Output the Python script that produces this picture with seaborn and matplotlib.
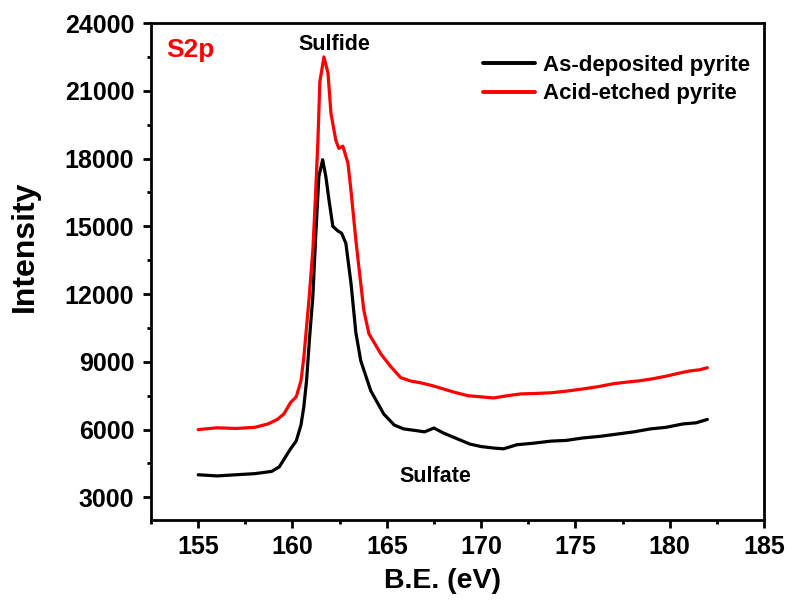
import matplotlib
matplotlib.use('Agg')
import matplotlib.pyplot as plt
import pandas as pd
import seaborn as sns
from matplotlib.ticker import MultipleLocator

# Espectro XPS S2p
be_dep = [155.0, 156.0, 157.0, 158.0, 158.9, 159.3, 159.6, 159.9, 160.2, 160.45,
          160.6, 160.75, 160.9, 161.08, 161.24, 161.4, 161.6, 161.77, 161.93, 162.14,
          162.4, 162.6, 162.83, 163.1, 163.36, 163.62, 164.15, 164.84, 165.4, 165.9,
          166.6, 167.0, 167.5, 168.0, 168.4, 169.4, 170.0, 170.7, 171.2, 171.9,
          172.8, 173.7, 174.5, 175.4, 176.3, 177.2, 178.1, 178.97, 179.8, 180.7,
          181.4, 182.0]
int_dep = [4000, 3950, 4000, 4050, 4150, 4350, 4750, 5150, 5500, 6200,
           7000, 8200, 10000, 11900, 14700, 17200, 17950, 17200, 16200, 15000,
           14800, 14700, 14250, 12500, 10300, 9050, 7720, 6690, 6200, 6030,
           5950, 5900, 6070, 5850, 5710, 5360, 5250, 5180, 5150, 5330,
           5400, 5490, 5520, 5630, 5700, 5800, 5900, 6030, 6100, 6250,
           6300, 6450]

be_etch = [155.0, 156.0, 157.0, 158.0, 158.7, 159.2, 159.55, 159.9, 160.2, 160.45,
           160.6, 160.87, 161.08, 161.2, 161.35, 161.45, 161.67, 161.88, 162.04, 162.3,
           162.46, 162.67, 162.94, 163.1, 163.36, 163.52, 163.78, 164.05, 164.68, 165.2,
           165.74, 166.27, 166.8, 167.4, 168.0, 168.6, 169.3, 170.0, 170.66, 171.4,
           172.1, 172.9, 173.7, 174.5, 175.4, 176.2, 177.0, 177.7, 178.4, 179.1,
           179.9, 180.5, 181.1, 181.6, 182.0]
int_etch = [6000, 6080, 6050, 6100, 6250, 6450, 6700, 7200, 7450, 8160,
            9180, 11700, 13950, 16000, 18800, 21400, 22500, 21800, 20000, 18800,
            18450, 18550, 17800, 16600, 14400, 13200, 11300, 10250, 9360, 8800,
            8300, 8150, 8070, 7950, 7800, 7650, 7500, 7450, 7400, 7500,
            7580, 7600, 7630, 7700, 7800, 7900, 8030, 8100, 8160, 8250,
            8380, 8500, 8600, 8650, 8740]

df_dep = pd.DataFrame({'be': be_dep, 'intensidade': int_dep})
df_etch = pd.DataFrame({'be': be_etch, 'intensidade': int_etch})

sns.set_theme(style='ticks')
plt.rcParams['font.family'] = ['Liberation Sans', 'DejaVu Sans']
plt.rcParams['font.weight'] = 'bold'
for k in ['text.color', 'axes.labelcolor', 'xtick.color', 'ytick.color',
          'axes.edgecolor']:
    plt.rcParams[k] = 'black'

fig, ax = plt.subplots(figsize=(7.92, 6.06), dpi=100)
fig.subplots_adjust(left=0.1907, right=0.9646, top=0.962, bottom=0.142)

sns.lineplot(data=df_dep, x='be', y='intensidade', color='black', lw=2.3,
             sort=False, label='As-deposited pyrite', ax=ax)
sns.lineplot(data=df_etch, x='be', y='intensidade', color='red', lw=2.3,
             sort=False, label='Acid-etched pyrite', ax=ax)

ax.set_xlim(152.5, 185)
ax.set_ylim(2000, 24000)
ax.xaxis.set_major_locator(MultipleLocator(5))
ax.xaxis.set_minor_locator(MultipleLocator(2.5))
ax.yaxis.set_major_locator(MultipleLocator(3000))
ax.yaxis.set_minor_locator(MultipleLocator(1500))
ax.tick_params(which='major', direction='out', length=6, width=2, labelsize=18,
               top=False, right=False, colors='black')
ax.tick_params(axis='x', which='major', pad=5)
ax.tick_params(axis='y', which='major', pad=6)
ax.tick_params(which='minor', direction='out', length=3, width=2,
               top=False, right=False, colors='black')
for lab in ax.get_xticklabels() + ax.get_yticklabels():
    lab.set_fontweight('bold')
for s in ax.spines.values():
    s.set_linewidth(2)
    s.set_color('black')

ax.set_xlabel('B.E. (eV)', fontsize=20.5, fontweight='bold', labelpad=6, x=0.476)
ax.set_ylabel('Intensity', fontsize=23, fontweight='bold', labelpad=18, y=0.551)

ax.text(153.31, 22800, 'S2p', color='red', fontsize=19, fontweight='bold',
        ha='left', va='center')
ax.text(162.22, 23050, 'Sulfide', color='black', fontsize=15.5, fontweight='bold',
        ha='center', va='center')
ax.text(167.6, 3935, 'Sulfate', color='black', fontsize=15.5, fontweight='bold',
        ha='center', va='center')

leg = ax.legend(loc='upper left', bbox_to_anchor=(0.5416, 0.936), frameon=False,
                fontsize=16, handlelength=2.35, handletextpad=0.36,
                borderpad=0, borderaxespad=0, labelspacing=0.34)
for t in leg.get_texts():
    t.set_fontweight('bold')
    t.set_color('black')
for h in leg.get_lines():
    h.set_linewidth(2.8)

fig.savefig('out.png', dpi=100)
